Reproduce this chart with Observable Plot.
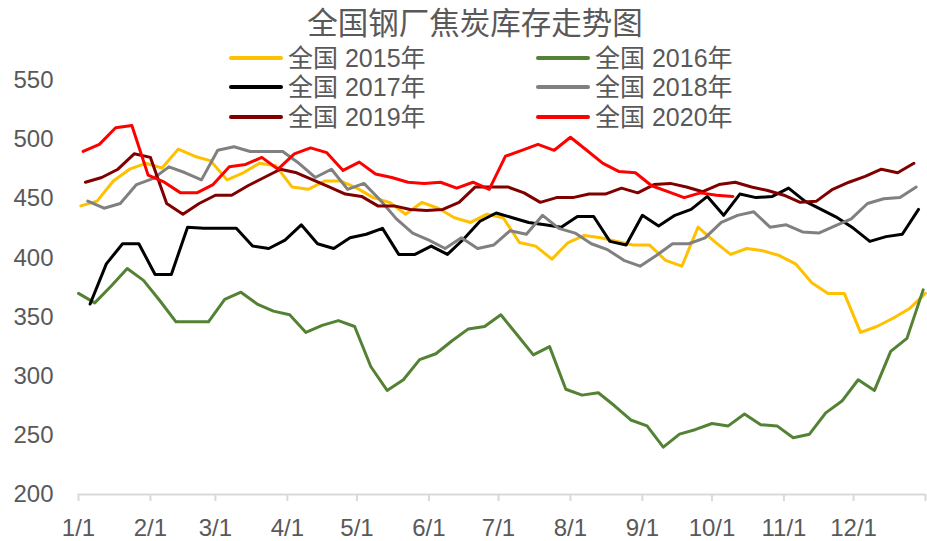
<!DOCTYPE html>
<html><head><meta charset="utf-8">
<script src="https://cdn.jsdelivr.net/npm/d3@7"></script>
<script src="https://cdn.jsdelivr.net/npm/@observablehq/plot@0.6"></script>
<style>
body{margin:0;background:#fff;}
#wrap{position:relative;width:927px;height:541px;font-family:"Liberation Sans","Noto Sans CJK SC",sans-serif;color:#595959;}
#title{position:absolute;left:0;width:950px;top:6px;text-align:center;font-size:30.5px;line-height:30px;white-space:nowrap;font-family:"Noto Sans CJK SC",sans-serif;}
.leg{position:absolute;height:30px;display:flex;align-items:center;white-space:nowrap;}
.leg .sw{width:54px;height:4px;border-radius:2px;margin-right:5px;}
.leg span{font-size:25px;line-height:30px;}
#chart{position:absolute;left:0;top:0;}
</style></head>
<body>
<div id="wrap">
  <div id="chart"></div>
  <div id="title"></div>
  <div id="legend"></div>
</div>
<script>
const titleText = "全国钢厂焦炭库存走势图";
const seriesNames = ["全国 2015年","全国 2016年","全国 2017年","全国 2018年","全国 2019年","全国 2020年"];
const seriesColors = ["#FFC000","#548235","#000000","#808080","#800000","#FF0000"];
// first weekly reading of each year (month/day), later readings weekly
const firstReading = ["1/2","1/1","1/6","1/5","1/4","1/3"];
const v2015 = [444,448,465,475,480,476,492,486,482,466,472,480,478,460,458,465,465,459,451,447,437,447,442,434,430,437,434,413,410,399,413,419,417,414,411,411,398,393,426,414,403,408,406,402,395,379,370,370,337,342,349,357,370];
const v2016 = [370,362,376,391,381,364,346,346,346,365,371,361,355,352,337,343,347,342,308,288,297,314,319,330,340,342,352,335,318,325,289,284,286,275,263,258,240,251,255,260,258,268,259,258,248,251,269,279,297,288,321,332,373];
const v2017 = [361,395,412,412,386,386,426,425,425,425,410,408,415,428,412,408,417,420,425,403,403,410,403,416,431,438,434,430,428,426,435,435,414,411,436,427,436,441,452,436,454,451,452,459,448,441,434,425,414,418,420,441];
const v2018 = [448,442,446,462,467,477,472,466,491,494,490,490,490,480,468,475,458,463,449,433,421,415,408,417,408,411,423,420,436,425,421,412,407,398,393,402,412,412,417,430,436,439,426,428,422,421,427,433,446,450,451,460];
const v2019 = [464,468,475,488,485,446,437,446,453,453,461,468,475,472,466,460,454,452,444,444,441,440,441,447,460,460,460,455,447,451,451,454,454,459,455,462,463,460,456,462,464,460,457,453,447,448,458,464,469,475,472,480];
const v2020 = [490,496,510,512,470,464,455,455,462,477,479,485,475,488,493,489,474,481,471,468,464,463,464,459,464,458,486,491,496,491,502,491,480,473,472,461,456,451,455,453,452];
const yTicks = [200,250,300,350,400,450,500,550];
const xTickLabels = ["1/1","2/1","3/1","4/1","5/1","6/1","7/1","8/1","9/1","10/1","11/1","12/1",""];

const allValues = [v2015,v2016,v2017,v2018,v2019,v2020];
const AXIS_YEAR = 2015;
const rows = [];
allValues.forEach((vals, s) => {
  const [m, d] = firstReading[s].split("/").map(Number);
  vals.forEach((v, i) => rows.push({series: seriesNames[s], date: new Date(Date.UTC(AXIS_YEAR, m - 1, d + 7 * i)), value: v}));
});
const xTicks = xTickLabels.map((_, i) => new Date(Date.UTC(AXIS_YEAR, i, 1)));
const labelOf = new Map(xTicks.map((t, i) => [+t, xTickLabels[i]]));

const chart = Plot.plot({
  width: 927, height: 541,
  marginLeft: 78, marginRight: 2, marginTop: 80, marginBottom: 47,
  style: {fontFamily: "Liberation Sans, Noto Sans CJK SC, sans-serif", fontSize: "24px", color: "#595959", background: "#fff"},
  x: {type: "utc", domain: [xTicks[0], xTicks[xTicks.length - 1]]},
  y: {domain: [200, 550]},
  color: {domain: seriesNames, range: seriesColors},
  marks: [
    Plot.axisY({ticks: yTicks, tickSize: 0, tickPadding: 25, fontSize: 24, fill: "#595959", label: null}),
    Plot.axisX({ticks: xTicks, tickSize: 7, tickPadding: 17, stroke: "#D9D9D9", strokeWidth: 2, fontSize: 24, fill: "#595959", label: null, tickFormat: d => labelOf.get(+d)}),
    Plot.ruleY([200], {stroke: "#D9D9D9", strokeWidth: 2}),
    ...seriesNames.map(name => Plot.line(rows.filter(r => r.series === name), {x: "date", y: "value", stroke: "series", strokeWidth: 3, strokeLinejoin: "round", strokeLinecap: "round"}))
  ]
});
document.getElementById("chart").appendChild(chart);
document.getElementById("title").textContent = titleText;

// legend: two columns, three rows
const legend = document.getElementById("legend");
const legCols = [229, 536];
const legRows = [43, 72, 102];
seriesNames.forEach((name, i) => {
  const div = document.createElement("div");
  div.className = "leg";
  div.style.left = legCols[i % 2] + "px";
  div.style.top = legRows[Math.floor(i / 2)] + "px";
  const sw = document.createElement("div");
  sw.className = "sw";
  sw.style.background = seriesColors[i];
  const sp = document.createElement("span");
  sp.textContent = name;
  div.appendChild(sw); div.appendChild(sp);
  legend.appendChild(div);
});
</script>
</body></html>
